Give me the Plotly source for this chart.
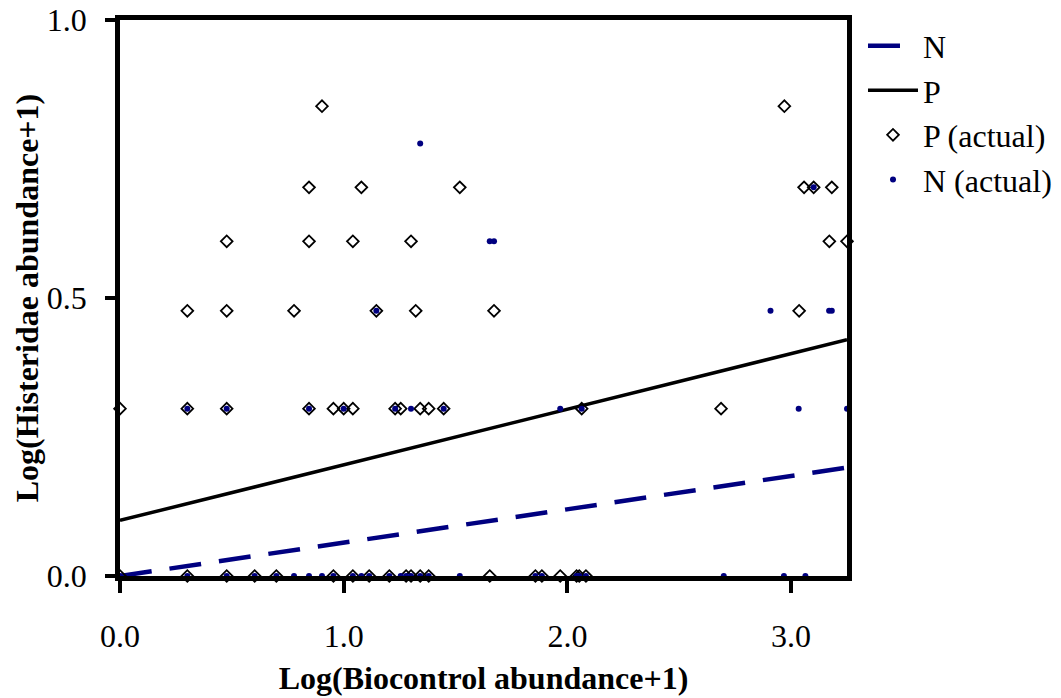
import plotly.graph_objects as go

# Observed points (log10-transformed)
p_x = [0.903, 2.970,
       0.845, 1.079, 1.519, 3.058, 3.101, 3.182,
       0.477, 0.845, 1.041, 1.301, 3.171, 3.250,
       0.301, 0.477, 0.778, 1.146, 1.322, 1.672, 3.036,
       0.0, 0.301, 0.477, 0.845, 0.954, 1.0, 1.041, 1.230, 1.255, 1.342, 1.380, 1.447, 2.064, 2.687,
       0.0, 0.301, 0.477, 0.602, 0.699, 0.954, 1.041, 1.114, 1.204, 1.279, 1.301, 1.342, 1.380,
       1.653, 1.857, 1.886, 1.968, 2.041, 2.053, 2.083]
p_y = [0.845, 0.845,
       0.699, 0.699, 0.699, 0.699, 0.699, 0.699,
       0.602, 0.602, 0.602, 0.602, 0.602, 0.602,
       0.477, 0.477, 0.477, 0.477, 0.477, 0.477, 0.477,
       0.301, 0.301, 0.301, 0.301, 0.301, 0.301, 0.301, 0.301, 0.301, 0.301, 0.301, 0.301, 0.301, 0.301,
       0.0, 0.0, 0.0, 0.0, 0.0, 0.0, 0.0, 0.0, 0.0, 0.0, 0.0, 0.0, 0.0,
       0.0, 0.0, 0.0, 0.0, 0.0, 0.0, 0.0]

n_x = [1.342,
       3.101,
       1.653, 1.672,
       1.146, 2.908, 3.170, 3.182,
       0.301, 0.477, 0.845, 1.0, 1.230, 1.301, 1.447, 1.968, 2.064, 3.034, 3.250,
       0.0, 0.301, 0.477, 0.602, 0.699, 0.778, 0.845, 0.903, 0.954, 1.041, 1.079, 1.114, 1.204,
       1.255, 1.279, 1.301, 1.342, 1.380, 1.519, 1.857, 1.886, 2.041, 2.053, 2.083, 2.699, 2.968, 3.064]
n_y = [0.778,
       0.699,
       0.602, 0.602,
       0.477, 0.477, 0.477, 0.477,
       0.301, 0.301, 0.301, 0.301, 0.301, 0.301, 0.301, 0.301, 0.301, 0.301, 0.301,
       0.0, 0.0, 0.0, 0.0, 0.0, 0.0, 0.0, 0.0, 0.0, 0.0, 0.0, 0.0, 0.0,
       0.0, 0.0, 0.0, 0.0, 0.0, 0.0, 0.0, 0.0, 0.0, 0.0, 0.0, 0.0, 0.0, 0.0]

# Fitted lines
fit_x = [0.0, 3.25]
p_intercept, p_slope = 0.100, 0.100
n_intercept, n_slope = 0.0, 0.060
p_fit = [p_intercept + p_slope * v for v in fit_x]
n_fit = [n_intercept + n_slope * v for v in fit_x]

x_ticks = [0.0, 1.0, 2.0, 3.0]
y_ticks = [0.0, 0.5, 1.0]

NAVY = "#000080"
FONT = "Liberation Serif"

fig = go.Figure()
fig.add_trace(go.Scatter(x=fit_x, y=n_fit, mode="lines", name="N",
                         line=dict(color=NAVY, width=4.5, dash="32px,18px"),
                         legendrank=1))
fig.add_trace(go.Scatter(x=fit_x, y=p_fit, mode="lines", name="P",
                         line=dict(color="black", width=3.5), legendrank=2))
fig.add_trace(go.Scatter(x=p_x, y=p_y, mode="markers", name="P (actual)",
                         marker=dict(symbol="diamond-open", size=9, color="black",
                                     line=dict(width=1.8, color="black")),
                         cliponaxis=False, legendrank=3))
fig.add_trace(go.Scatter(x=n_x, y=n_y, mode="markers", name="N (actual)",
                         marker=dict(symbol="circle", size=6, color=NAVY),
                         cliponaxis=False, legendrank=4))

# page body adds an 8px margin, so the figure is sized to fit inside the window
fig.update_layout(
    width=1053, height=690,
    margin=dict(l=112, r=214, t=12, b=122, autoexpand=False),
    paper_bgcolor="white", plot_bgcolor="white",
    font=dict(family=FONT, size=32, color="black"),
    showlegend=True,
    legend=dict(x=1.022, y=1.003, xanchor="left", yanchor="top",
                font=dict(family=FONT, size=32), bgcolor="rgba(0,0,0,0)",
                tracegroupgap=0, itemwidth=50),
    xaxis=dict(range=[0, 3.25], tickvals=x_ticks, tickformat=".1f",
               showline=True, linewidth=4.5, linecolor="black", mirror=True,
               ticks="outside", ticklen=12, tickwidth=4, tickcolor="black",
               showgrid=False, zeroline=False, ticklabelstandoff=16,
               automargin=False, ticklabeloverflow="allow",
               title=dict(text="<b>Log(Biocontrol abundance+1)</b>",
                          font=dict(family=FONT, size=32), standoff=15)),
    yaxis=dict(range=[0, 1], tickvals=y_ticks, tickformat=".1f",
               showline=True, linewidth=4.5, linecolor="black", mirror=True,
               ticks="outside", ticklen=10, tickwidth=4, tickcolor="black",
               showgrid=False, zeroline=False, automargin=False,
               ticklabelstandoff=12, ticklabeloverflow="allow",
               title=dict(text="<b>Log(Histeridae abundance+1)</b>",
                          font=dict(family=FONT, size=32), standoff=0)),
)

fig.write_html("out.html")
